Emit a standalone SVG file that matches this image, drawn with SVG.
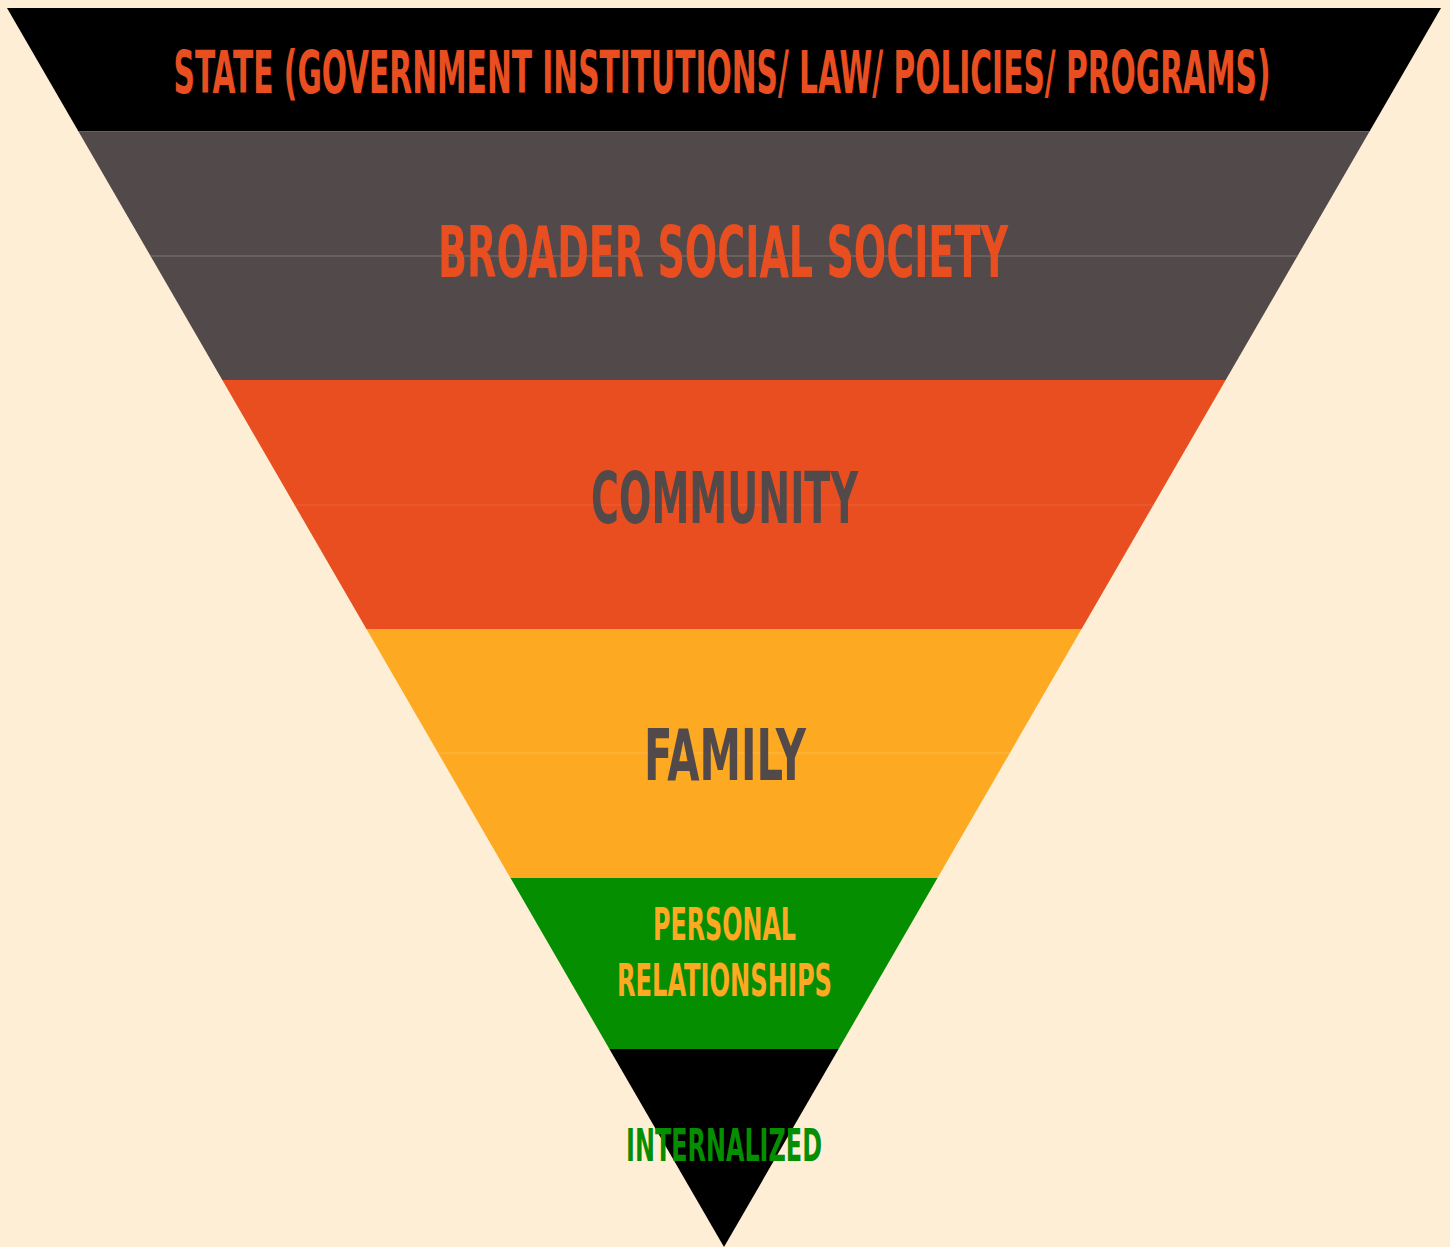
<svg xmlns="http://www.w3.org/2000/svg" width="1450" height="1247" viewBox="0 0 1450 1247">
<style>
.lbl{font-family:"DejaVu Sans Condensed","DejaVu Sans","Liberation Sans",sans-serif;font-weight:bold;text-anchor:middle}
.seam{stroke-width:1}
</style>
<rect x="0" y="0" width="1450" height="1247" fill="#feeed6"/>
<g id="state">
<polygon points="7,8 1441,8 1369.5,131.5 78.5,131.5" fill="#000000"/>
<text class="lbl" x="722" y="93" font-size="59" fill="#e84e20" textLength="1097" lengthAdjust="spacingAndGlyphs">STATE (GOVERNMENT INSTITUTIONS/ LAW/ POLICIES/ PROGRAMS)</text>
</g>
<g id="society">
<polygon points="78.5,131.5 1369.5,131.5 1225.7,380 222.3,380" fill="#524a4a"/>
<line class="seam" x1="150.5" y1="256" x2="1297.5" y2="256" stroke="#7f7770"/>
<text class="lbl" x="723" y="277" font-size="71" fill="#e84e20" textLength="570" lengthAdjust="spacingAndGlyphs">BROADER SOCIAL SOCIETY</text>
</g>
<g id="community">
<polygon points="222.3,380 1225.7,380 1081.6,629 366.4,629" fill="#e84e20"/>
<line class="seam" x1="294.6" y1="505" x2="1153.4" y2="505" stroke="#ec6035"/>
<text class="lbl" x="724.5" y="523" font-size="71" fill="#524a4a" textLength="267" lengthAdjust="spacingAndGlyphs">COMMUNITY</text>
</g>
<g id="family">
<polygon points="366.4,629 1081.6,629 937.5,878 510.5,878" fill="#fdaa22"/>
<line class="seam" x1="438.1" y1="753" x2="1009.9" y2="753" stroke="#fdb84a"/>
<text class="lbl" x="725" y="780" font-size="72" fill="#524a4a" textLength="162" lengthAdjust="spacingAndGlyphs">FAMILY</text>
</g>
<g id="personal">
<polygon points="510.5,878 937.5,878 838.6,1049 609.4,1049" fill="#058e00"/>
<text class="lbl" x="724.5" y="940" font-size="44" fill="#fdaa22" textLength="143" lengthAdjust="spacingAndGlyphs">PERSONAL</text>
<text class="lbl" x="724.5" y="996" font-size="44" fill="#fdaa22" textLength="215" lengthAdjust="spacingAndGlyphs">RELATIONSHIPS</text>
</g>
<g id="internalized">
<polygon points="609.4,1049 838.6,1049 724,1247" fill="#000000"/>
<text class="lbl" x="724" y="1161" font-size="45" fill="#058e00" textLength="196" lengthAdjust="spacingAndGlyphs">INTERNALIZED</text>
</g>
<g id="connectors"></g>
</svg>
